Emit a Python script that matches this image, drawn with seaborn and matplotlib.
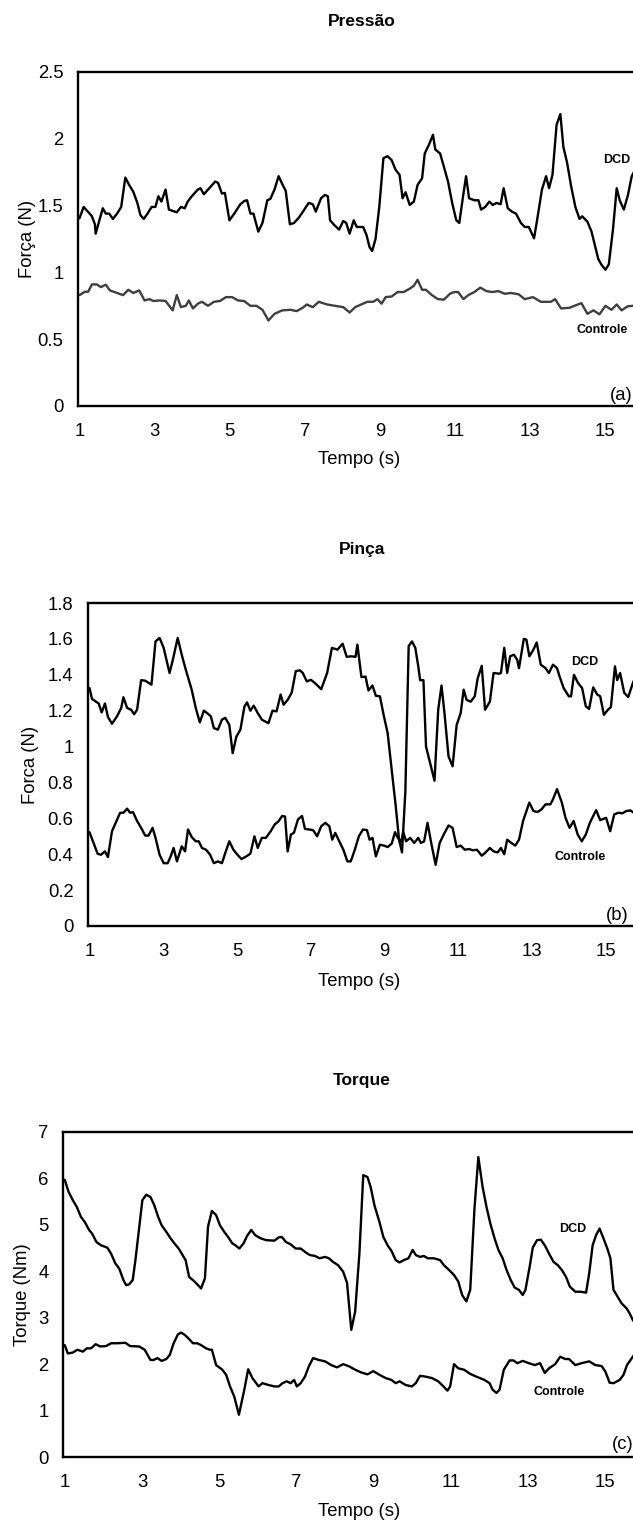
import matplotlib
matplotlib.use("Agg")
import matplotlib.pyplot as plt
import seaborn as sns

# ---------------- data ----------------
x_ticks = [1, 3, 5, 7, 9, 11, 13, 15]
x_tick_labels = ["1", "3", "5", "7", "9", "11", "13", "15"]

# Panel (a) Pressão
pres_y_ticks = [0, 0.5, 1, 1.5, 2, 2.5]
pres_y_labels = ["0", "0.5", "1", "1.5", "2", "2.5"]
pres_dcd_t = [1.00, 1.11, 1.27, 1.33, 1.41, 1.43, 1.62, 1.70, 1.79, 1.89, 2.00, 2.11, 2.22, 2.32, 2.43,
              2.54, 2.62, 2.71, 2.81, 2.92, 3.02, 3.10, 3.18, 3.29, 3.38, 3.48, 3.59, 3.70, 3.80, 3.88,
              3.99, 4.15, 4.22, 4.31, 4.47, 4.61, 4.69, 4.79, 4.87, 4.99, 5.12, 5.28, 5.39, 5.46, 5.55,
              5.63, 5.76, 5.87, 6.00, 6.08, 6.19, 6.30, 6.40, 6.49, 6.60, 6.71, 6.84, 6.96, 7.10, 7.21,
              7.29, 7.43, 7.53, 7.61, 7.67, 7.78, 7.91, 8.02, 8.10, 8.19, 8.30, 8.38, 8.55, 8.64, 8.72,
              8.79, 8.88, 8.98, 9.09, 9.20, 9.31, 9.41, 9.52, 9.60, 9.68, 9.79, 9.90, 10.00, 10.12, 10.19,
              10.30, 10.41, 10.47, 10.60, 10.70, 10.81, 10.92, 11.03, 11.11, 11.21, 11.29, 11.37, 11.51,
              11.62, 11.69, 11.80, 11.91, 12.00, 12.10, 12.21, 12.29, 12.40, 12.51, 12.62, 12.75, 12.85,
              12.96, 13.10, 13.18, 13.31, 13.42, 13.50, 13.59, 13.70, 13.80, 13.88, 13.98, 14.09, 14.20,
              14.31, 14.38, 14.52, 14.63, 14.73, 14.81, 14.90, 15.00, 15.09, 15.20, 15.30, 15.38, 15.49,
              15.60, 15.70, 15.85]
pres_dcd_v = [1.405, 1.49, 1.44, 1.42, 1.36, 1.29, 1.48, 1.44, 1.44, 1.40, 1.44, 1.49, 1.71, 1.655, 1.605,
              1.52, 1.43, 1.40, 1.44, 1.49, 1.49, 1.57, 1.53, 1.62, 1.47, 1.46, 1.45, 1.49, 1.48, 1.53,
              1.57, 1.62, 1.63, 1.585, 1.635, 1.68, 1.67, 1.59, 1.595, 1.39, 1.44, 1.51, 1.535, 1.54, 1.44,
              1.44, 1.305, 1.37, 1.54, 1.55, 1.62, 1.72, 1.66, 1.61, 1.36, 1.37, 1.41, 1.46, 1.52, 1.51,
              1.455, 1.555, 1.58, 1.57, 1.39, 1.355, 1.32, 1.385, 1.37, 1.29, 1.39, 1.34, 1.34, 1.28, 1.19,
              1.16, 1.25, 1.49, 1.855, 1.87, 1.84, 1.77, 1.73, 1.555, 1.60, 1.505, 1.53, 1.655, 1.705, 1.89,
              1.955, 2.03, 1.92, 1.89, 1.79, 1.68, 1.52, 1.39, 1.37, 1.57, 1.72, 1.555, 1.54,
              1.54, 1.47, 1.49, 1.53, 1.505, 1.52, 1.51, 1.63, 1.48, 1.455, 1.44, 1.37, 1.34,
              1.34, 1.255, 1.39, 1.62, 1.72, 1.63, 1.73, 2.105, 2.185, 1.94, 1.82, 1.64, 1.49,
              1.40, 1.42, 1.38, 1.305, 1.19, 1.10, 1.055, 1.02, 1.06, 1.32, 1.63, 1.54, 1.47,
              1.58, 1.72, 1.80]
pres_ctl_t = [1.00, 1.14, 1.23, 1.33, 1.46, 1.57, 1.70, 1.81, 2.00, 2.16, 2.30, 2.43, 2.59, 2.73, 2.86,
              2.97, 3.13, 3.29, 3.48, 3.59, 3.70, 3.83, 3.91, 4.02, 4.15, 4.26, 4.42, 4.58, 4.74, 4.90,
              5.06, 5.22, 5.38, 5.55, 5.71, 5.87, 6.03, 6.19, 6.40, 6.62, 6.78, 6.94, 7.05, 7.21, 7.37,
              7.59, 7.80, 8.02, 8.19, 8.34, 8.50, 8.66, 8.82, 8.93, 9.04, 9.15, 9.31, 9.47, 9.63, 9.79,
              9.90, 10.00, 10.12, 10.22, 10.38, 10.54, 10.70, 10.86, 10.97, 11.08, 11.22, 11.35, 11.51,
              11.67, 11.83, 11.99, 12.15, 12.32, 12.48, 12.69, 12.85, 13.07, 13.28, 13.55, 13.66, 13.82,
              14.04, 14.14, 14.36, 14.52, 14.68, 14.84, 15.00, 15.16, 15.30, 15.43, 15.59, 15.73, 15.90]
pres_ctl_v = [0.83, 0.855, 0.855, 0.91, 0.91, 0.89, 0.908, 0.865, 0.846, 0.83, 0.87, 0.846, 0.865, 0.79, 0.80,
              0.786, 0.79, 0.786, 0.716, 0.83, 0.74, 0.75, 0.79, 0.73, 0.766, 0.78, 0.75, 0.78, 0.786, 0.815,
              0.815, 0.79, 0.786, 0.75, 0.75, 0.72, 0.64, 0.69, 0.716, 0.72, 0.71, 0.735, 0.76, 0.74, 0.78,
              0.76, 0.75, 0.74, 0.70, 0.74, 0.76, 0.78, 0.78, 0.80, 0.766, 0.815, 0.82, 0.853, 0.853, 0.878,
              0.90, 0.945, 0.87, 0.87, 0.83, 0.80, 0.796, 0.84, 0.853, 0.853, 0.80, 0.83, 0.853,
              0.886, 0.86, 0.853, 0.86, 0.84, 0.846, 0.836, 0.80, 0.815, 0.78, 0.78, 0.80, 0.73,
              0.735, 0.746, 0.77, 0.69, 0.716, 0.686, 0.75, 0.72, 0.76, 0.716, 0.746, 0.75, 0.74]

# Panel (b) Pinça
pinc_y_ticks = [0, 0.2, 0.4, 0.6, 0.8, 1.0, 1.2, 1.4, 1.6, 1.8]
pinc_y_labels = ["0", "0.2", "0.4", "0.6", "0.8", "1", "1.2", "1.4", "1.6", "1.8"]
pinc_dcd_t = [1.00, 1.07, 1.18, 1.25, 1.33, 1.42, 1.50, 1.61, 1.75, 1.86, 1.92, 2.02, 2.13, 2.21, 2.29,
              2.40, 2.51, 2.68, 2.79, 2.90, 3.01, 3.17, 3.26, 3.39, 3.50, 3.61, 3.77, 3.88, 3.99, 4.10,
              4.21, 4.29, 4.37, 4.48, 4.59, 4.68, 4.79, 4.88, 4.98, 5.09, 5.20, 5.27, 5.36, 5.45, 5.56,
              5.67, 5.85, 5.96, 6.07, 6.18, 6.26, 6.37, 6.48, 6.59, 6.70, 6.78, 6.89, 7.00, 7.11, 7.28,
              7.44, 7.57, 7.72, 7.86, 7.97, 8.10, 8.21, 8.26, 8.37, 8.48, 8.56, 8.67, 8.76, 8.87, 8.98,
              9.08, 9.19, 9.30, 9.39, 9.47, 9.56, 9.65, 9.74, 9.83, 9.91, 9.96, 10.05, 10.12, 10.23, 10.35,
              10.45, 10.54, 10.62, 10.73, 10.84, 10.95, 11.06, 11.14, 11.22, 11.33, 11.44, 11.52, 11.63,
              11.72, 11.85, 11.95, 12.10, 12.15, 12.24, 12.32, 12.40, 12.50, 12.59, 12.64, 12.77, 12.84,
              12.92, 13.03, 13.12, 13.23, 13.36, 13.45, 13.56, 13.67, 13.74, 13.85, 13.99, 14.05, 14.13,
              14.24, 14.35, 14.45, 14.54, 14.65, 14.76, 14.84, 14.94, 15.05, 15.13, 15.24, 15.30, 15.38,
              15.49, 15.60, 15.74, 15.90]
pinc_dcd_v = [1.326, 1.265, 1.25, 1.24, 1.19, 1.24, 1.165, 1.127, 1.17, 1.215, 1.275, 1.215, 1.205, 1.18, 1.205,
              1.37, 1.367, 1.345, 1.586, 1.605, 1.55, 1.41, 1.484, 1.605, 1.512, 1.428, 1.317, 1.215, 1.135, 1.20,
              1.183, 1.168, 1.103, 1.094, 1.15, 1.16, 1.12, 0.963, 1.055, 1.094, 1.224, 1.246, 1.20, 1.228, 1.187,
              1.15, 1.13, 1.20, 1.196, 1.29, 1.233, 1.26, 1.30, 1.42, 1.425, 1.41, 1.363, 1.372, 1.354, 1.32,
              1.41, 1.55, 1.54, 1.573, 1.50, 1.503, 1.50, 1.568, 1.387, 1.39, 1.313, 1.34, 1.283, 1.28, 1.168,
              1.075, 0.87, 0.666, 0.48, 0.41, 0.75, 1.56, 1.586, 1.55, 1.447, 1.37, 1.37, 1.0, 0.91, 0.81,
              1.205, 1.34, 1.187, 0.945, 0.89, 1.12, 1.187, 1.317, 1.26, 1.25, 1.28, 1.38, 1.45,
              1.205, 1.25, 1.41, 1.406, 1.41, 1.55, 1.41, 1.503, 1.512, 1.484, 1.437, 1.60, 1.596,
              1.503, 1.54, 1.58, 1.456, 1.437, 1.41, 1.456, 1.437, 1.39, 1.326, 1.28, 1.28, 1.40,
              1.354, 1.326, 1.224, 1.21, 1.33, 1.29, 1.28, 1.177, 1.205, 1.22, 1.447, 1.37, 1.41,
              1.30, 1.276, 1.363, 1.38]
pinc_ctl_t = [1.00, 1.11, 1.22, 1.31, 1.42, 1.50, 1.61, 1.75, 1.83, 1.92, 2.02, 2.10, 2.18, 2.29, 2.40,
              2.51, 2.60, 2.71, 2.79, 2.90, 3.01, 3.12, 3.20, 3.28, 3.37, 3.50, 3.59, 3.67, 3.77, 3.88,
              3.96, 4.05, 4.16, 4.27, 4.37, 4.48, 4.59, 4.68, 4.79, 4.90, 5.01, 5.12, 5.25, 5.36, 5.47,
              5.56, 5.67, 5.78, 5.91, 6.02, 6.13, 6.22, 6.30, 6.37, 6.46, 6.54, 6.65, 6.76, 6.84, 6.95,
              7.06, 7.17, 7.28, 7.39, 7.50, 7.58, 7.66, 7.77, 7.88, 7.99, 8.08, 8.19, 8.30, 8.41, 8.52,
              8.59, 8.67, 8.76, 8.87, 8.98, 9.08, 9.19, 9.28, 9.36, 9.45, 9.50, 9.58, 9.69, 9.80, 9.91,
              9.98, 10.07, 10.16, 10.27, 10.38, 10.49, 10.60, 10.73, 10.84, 10.95, 11.06, 11.17, 11.28,
              11.39, 11.50, 11.63, 11.72, 11.85, 11.95, 12.06, 12.15, 12.24, 12.32, 12.43, 12.54, 12.64,
              12.75, 12.92, 13.03, 13.14, 13.25, 13.36, 13.49, 13.56, 13.67, 13.80, 13.90, 14.01, 14.12,
              14.23, 14.34, 14.45, 14.56, 14.73, 14.84, 15.00, 15.11, 15.22, 15.33, 15.44, 15.55, 15.66,
              15.75, 15.90]
pinc_ctl_v = [0.523, 0.463, 0.403, 0.397, 0.416, 0.384, 0.528, 0.594, 0.631, 0.631, 0.654, 0.631, 0.635, 0.585, 0.547,
              0.504, 0.504, 0.547, 0.491, 0.397, 0.35, 0.35, 0.388, 0.435, 0.36, 0.444, 0.416, 0.538, 0.496, 0.472,
              0.472, 0.435, 0.425, 0.397, 0.35, 0.36, 0.35, 0.407, 0.472, 0.425, 0.397, 0.373, 0.388, 0.403, 0.50,
              0.435, 0.491, 0.491, 0.528, 0.566, 0.585, 0.613, 0.61, 0.416, 0.51, 0.519, 0.594, 0.613, 0.541, 0.538,
              0.534, 0.50, 0.556, 0.575, 0.556, 0.481, 0.519, 0.472, 0.425, 0.36, 0.36, 0.425, 0.50, 0.538, 0.534,
              0.481, 0.491, 0.388, 0.453, 0.448, 0.44, 0.459, 0.523, 0.49, 0.47, 0.525, 0.472, 0.491, 0.463, 0.491,
              0.463, 0.472, 0.575, 0.453, 0.341, 0.463, 0.51, 0.56, 0.547, 0.44, 0.448, 0.425, 0.429,
              0.422, 0.425, 0.392, 0.407, 0.435, 0.416, 0.41, 0.435, 0.40, 0.481, 0.463, 0.448, 0.481,
              0.585, 0.688, 0.641, 0.635, 0.65, 0.678, 0.678, 0.706, 0.763, 0.688, 0.603, 0.547, 0.585,
              0.51, 0.472, 0.51, 0.575, 0.646, 0.59, 0.603, 0.528, 0.622, 0.631, 0.628, 0.641, 0.644,
              0.631, 0.63]

# Panel (c) Torque
torq_y_ticks = [0, 1, 2, 3, 4, 5, 6, 7]
torq_y_labels = ["0", "1", "2", "3", "4", "5", "6", "7"]
torq_dcd_t = [1.00, 1.10, 1.21, 1.31, 1.42, 1.52, 1.63, 1.71, 1.82, 1.94, 2.10, 2.20, 2.31, 2.41, 2.52,
              2.59, 2.67, 2.76, 2.83, 2.93, 3.01, 3.11, 3.22, 3.32, 3.42, 3.51, 3.63, 3.74, 3.84, 3.95,
              4.05, 4.13, 4.22, 4.32, 4.43, 4.53, 4.63, 4.71, 4.81, 4.92, 5.02, 5.13, 5.23, 5.34, 5.42,
              5.52, 5.63, 5.72, 5.83, 5.93, 6.07, 6.22, 6.43, 6.54, 6.62, 6.73, 6.85, 6.98, 7.11, 7.25,
              7.35, 7.48, 7.60, 7.74, 7.84, 7.95, 8.08, 8.21, 8.31, 8.42, 8.52, 8.63, 8.73, 8.84, 8.92,
              9.02, 9.15, 9.25, 9.36, 9.46, 9.57, 9.67, 9.78, 9.90, 10.01, 10.09, 10.20, 10.30, 10.40,
              10.56, 10.72, 10.82, 10.95, 11.08, 11.19, 11.29, 11.40, 11.50, 11.61, 11.71, 11.82, 11.92,
              12.02, 12.13, 12.23, 12.34, 12.44, 12.55, 12.65, 12.76, 12.86, 12.93, 13.04, 13.12, 13.23,
              13.33, 13.43, 13.56, 13.66, 13.77, 13.87, 13.98, 14.08, 14.22, 14.35, 14.50, 14.58, 14.67,
              14.76, 14.85, 14.95, 15.05, 15.13, 15.21, 15.32, 15.42, 15.55, 15.63, 15.71, 15.85]
torq_dcd_v = [5.97, 5.71, 5.53, 5.39, 5.17, 5.06, 4.89, 4.81, 4.63, 4.56, 4.51, 4.38, 4.17, 4.06, 3.81,
              3.70, 3.72, 3.81, 4.24, 4.96, 5.53, 5.65, 5.60, 5.42, 5.17, 4.99, 4.85, 4.71, 4.60, 4.49,
              4.35, 4.24, 3.88, 3.81, 3.72, 3.63, 3.85, 4.96, 5.30, 5.21, 4.99, 4.85, 4.74, 4.60, 4.56,
              4.49, 4.60, 4.76, 4.89, 4.78, 4.71, 4.67, 4.66, 4.73, 4.74, 4.63, 4.58, 4.49, 4.49, 4.40,
              4.35, 4.33, 4.28, 4.31, 4.28, 4.20, 4.13, 3.99, 3.75, 2.74, 3.13, 4.38, 6.07, 6.03, 5.82,
              5.42, 5.06, 4.74, 4.56, 4.44, 4.24, 4.19, 4.24, 4.28, 4.46, 4.35, 4.31, 4.33, 4.28,
              4.28, 4.24, 4.13, 4.03, 3.92, 3.78, 3.49, 3.35, 3.60, 5.35, 6.46, 5.82, 5.39,
              5.03, 4.71, 4.46, 4.28, 4.03, 3.81, 3.65, 3.60, 3.49, 3.60, 4.10, 4.51, 4.67,
              4.68, 4.56, 4.35, 4.20, 4.13, 4.03, 3.88, 3.67, 3.56, 3.56, 3.54, 3.95, 4.56,
              4.78, 4.92, 4.71, 4.49, 4.28, 3.60, 3.45, 3.31, 3.20, 3.09, 2.95, 2.80]
torq_ctl_t = [1.00, 1.08, 1.21, 1.33, 1.47, 1.57, 1.68, 1.80, 1.92, 2.07, 2.20, 2.36, 2.57, 2.69, 2.93,
              3.07, 3.22, 3.30, 3.40, 3.51, 3.63, 3.72, 3.82, 3.93, 4.01, 4.11, 4.22, 4.32, 4.43, 4.53,
              4.66, 4.76, 4.81, 4.92, 5.08, 5.18, 5.28, 5.39, 5.51, 5.65, 5.75, 5.86, 6.02, 6.12, 6.28,
              6.43, 6.54, 6.64, 6.75, 6.85, 6.94, 7.01, 7.11, 7.22, 7.32, 7.43, 7.58, 7.74, 7.90, 8.05,
              8.21, 8.37, 8.52, 8.68, 8.84, 8.99, 9.15, 9.31, 9.46, 9.57, 9.67, 9.83, 9.99, 10.09, 10.20,
              10.35, 10.51, 10.67, 10.77, 10.91, 10.98, 11.08, 11.19, 11.34, 11.50, 11.66, 11.87, 12.00,
              12.08, 12.18, 12.26, 12.37, 12.52, 12.62, 12.72, 12.86, 13.02, 13.17, 13.31, 13.43, 13.54,
              13.70, 13.83, 13.96, 14.06, 14.22, 14.38, 14.58, 14.74, 14.90, 15.00, 15.11, 15.21, 15.37,
              15.47, 15.56, 15.71, 15.85]
torq_ctl_v = [2.41, 2.23, 2.25, 2.31, 2.27, 2.34, 2.34, 2.43, 2.38, 2.39, 2.45, 2.45, 2.46, 2.39, 2.38,
              2.31, 2.09, 2.09, 2.13, 2.07, 2.11, 2.20, 2.45, 2.64, 2.68, 2.63, 2.54, 2.45, 2.45, 2.41,
              2.34, 2.31, 2.31, 1.98, 1.88, 1.77, 1.52, 1.30, 0.91, 1.45, 1.89, 1.70, 1.52, 1.59, 1.55,
              1.52, 1.52, 1.59, 1.63, 1.59, 1.66, 1.52, 1.59, 1.73, 1.95, 2.13, 2.09, 2.06, 1.98, 1.93,
              2.00, 1.95, 1.88, 1.82, 1.78, 1.85, 1.77, 1.70, 1.66, 1.59, 1.63, 1.55, 1.52, 1.59, 1.75,
              1.73, 1.70, 1.63, 1.55, 1.43, 1.52, 2.00, 1.91, 1.88, 1.79, 1.73, 1.66, 1.59,
              1.45, 1.38, 1.45, 1.88, 2.08, 2.08, 2.02, 2.07, 2.02, 1.98, 2.02, 1.81, 1.91,
              2.00, 2.16, 2.11, 2.11, 1.98, 2.02, 2.06, 1.98, 1.96, 1.84, 1.60, 1.59, 1.66,
              1.77, 1.98, 2.16, 2.30]

# ---------------- style ----------------
sns.set_style("white")
plt.rcParams["font.family"] = ["Liberation Sans", "DejaVu Sans"]
plt.rcParams["text.color"] = "black"
plt.rcParams["axes.labelcolor"] = "black"
plt.rcParams["xtick.color"] = "black"
plt.rcParams["ytick.color"] = "black"

W, H = 633, 1535
fig = plt.figure(figsize=(W / 100, H / 100), dpi=100)

TICK_FS = 13.3
LBL_FS = 13.3

panels = [
    dict(title="Pressão", title_y=22, ylabel="Força (N)",
         left=78, right=643, top=72, bottom=406, ylim=(0, 2.5),
         yt=pres_y_ticks, ytl=pres_y_labels,
         dcd=(pres_dcd_t, pres_dcd_v), ctl=(pres_ctl_t, pres_ctl_v), ctl_color="#3f3f3f",
         dcd_lab=(15.29, 1.84), ctl_lab=(14.9, 0.57), letter="(a)", letter_pos=(15.12, 0.075),
         ylabel_x=27, xlabel_y=460),
    dict(title="Pinça", title_y=550, ylabel="Forca (N)",
         left=88, right=643, top=603, bottom=926, ylim=(0, 1.8),
         yt=pinc_y_ticks, ytl=pinc_y_labels,
         dcd=(pinc_dcd_t, pinc_dcd_v), ctl=(pinc_ctl_t, pinc_ctl_v), ctl_color="black",
         dcd_lab=(14.41, 1.47), ctl_lab=(14.30, 0.384), letter="(b)", letter_pos=(15.0, 0.061),
         ylabel_x=30, xlabel_y=981),
    dict(title="Torque", title_y=1080, ylabel="Torque (Nm)",
         left=63.2, right=644, top=1132, bottom=1457, ylim=(0, 7),
         yt=torq_y_ticks, ytl=torq_y_labels,
         dcd=(torq_dcd_t, torq_dcd_v), ctl=(torq_ctl_t, torq_ctl_v), ctl_color="black",
         dcd_lab=(14.16, 4.92), ctl_lab=(13.81, 1.39), letter="(c)", letter_pos=(15.16, 0.26),
         ylabel_x=22.6, xlabel_y=1512),
]

for p in panels:
    wpx = p["right"] - p["left"]
    hpx = p["bottom"] - p["top"]
    ax = fig.add_axes([p["left"] / W, 1 - p["bottom"] / H, wpx / W, hpx / H])
    sns.lineplot(x=p["dcd"][0], y=p["dcd"][1], ax=ax, color="black", linewidth=1.7, estimator=None)
    sns.lineplot(x=p["ctl"][0], y=p["ctl"][1], ax=ax, color=p["ctl_color"], linewidth=1.7, estimator=None)
    ax.set_xlim(0.96, 16.0)
    ax.set_ylim(*p["ylim"])
    ax.set_xticks(x_ticks)
    ax.set_xticklabels(x_tick_labels)
    ax.set_yticks(p["yt"])
    ax.set_yticklabels(p["ytl"])
    ax.tick_params(axis="both", length=0, labelsize=TICK_FS, colors="black")
    ax.tick_params(axis="x", pad=12.5)
    ax.tick_params(axis="y", pad=10.5)
    for s in ax.spines.values():
        s.set_visible(True)
        s.set_color("black")
        s.set_linewidth(1.7)
    ax.grid(False)

    ax.set_xlabel("Tempo (s)", fontsize=LBL_FS, color="black")
    ax.xaxis.label.set_va("center")
    ax.xaxis.set_label_coords((359 - p["left"]) / wpx, -(p["xlabel_y"] - p["bottom"]) / hpx)
    ax.set_ylabel(p["ylabel"], fontsize=LBL_FS, color="black")
    ax.yaxis.label.set_va("center")
    ax.yaxis.set_label_coords((p["ylabel_x"] - p["left"]) / wpx, 0.5)

    ax.text(*p["dcd_lab"], "DCD", fontsize=9, fontweight="bold", ha="center", va="center", color="black")
    ax.text(*p["ctl_lab"], "Controle", fontsize=9, fontweight="bold", ha="center", va="center", color="black")
    ax.text(*p["letter_pos"], p["letter"], fontsize=TICK_FS, ha="left", va="center", color="black")

    fig.text(362 / W, 1 - p["title_y"] / H, p["title"], fontsize=12.5, fontweight="bold",
             ha="center", va="center", color="black")

fig.savefig("out.png", dpi=100)
